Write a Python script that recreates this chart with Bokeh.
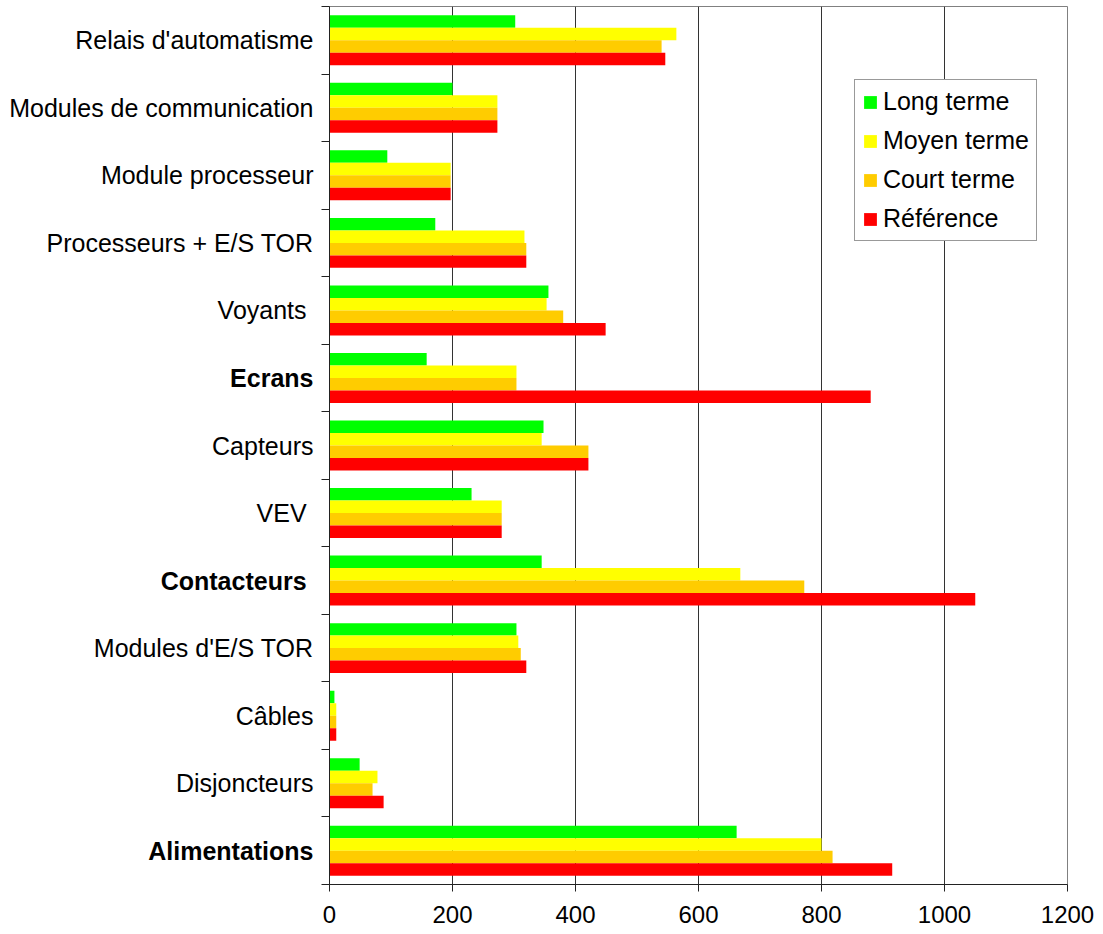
from bokeh.plotting import figure
from bokeh.layouts import row
from bokeh.models import ColumnDataSource, Range1d, FixedTicker, LinearAxis, Legend, LegendItem
from bokeh.core.properties import value
from bokeh.transform import dodge
from bokeh.embed import file_html
from bokeh.resources import INLINE

# Categories, listed from top to bottom as in the chart
categories = ["Relais d'automatisme", "Modules de communication", "Module processeur",
              "Processeurs + E/S TOR", "Voyants ", "Ecrans", "Capteurs", "VEV ",
              "Contacteurs ", "Modules d'E/S TOR", "Câbles", "Disjoncteurs", "Alimentations"]
bold_categories = ["Ecrans", "Contacteurs ", "Alimentations"]

long_terme  = [302, 200, 94, 172, 356, 158, 348, 231, 345, 304, 8, 49, 662]
moyen_terme = [564, 273, 197, 317, 353, 304, 345, 280, 668, 307, 11, 78, 800]
court_terme = [540, 273, 197, 320, 380, 304, 421, 280, 772, 311, 11, 70, 818]
reference   = [546, 273, 197, 320, 449, 880, 421, 280, 1050, 320, 11, 88, 915]

series_names = ["Long terme", "Moyen terme", "Court terme", "Référence"]
series_colors = ["#00FF00", "#FFFF00", "#FFCC00", "#FF0000"]
x_ticks = [0, 200, 400, 600, 800, 1000, 1200]

FONT = "Liberation Sans"
n = len(categories)
ypos = [n - 1 - i + 0.5 for i in range(n)]

src = ColumnDataSource(dict(
    y=ypos, cat=categories,
    style=["bold" if c in bold_categories else "normal" for c in categories],
    long=long_terme, moyen=moyen_terme, court=court_terme, ref=reference,
))

H = 934
TOP = 6
BOTTOM = 50
y_range = Range1d(0, n)

# ---- left panel holding the category labels ----
lab = figure(width=317, height=H, output_backend="svg", toolbar_location=None,
             x_range=Range1d(0, 1), y_range=y_range,
             min_border_left=0, min_border_right=0, min_border_top=TOP, min_border_bottom=BOTTOM,
             x_axis_location=None, y_axis_location=None)
lab.outline_line_color = None
lab.xgrid.grid_line_color = None
lab.ygrid.grid_line_color = None
lab.text(x=1, y="y", text="cat", source=src, x_offset=-4,
         text_align="right", text_baseline="middle",
         text_font=value(FONT), text_font_size="25px", text_color="black",
         text_font_style="style")

# ---- main chart ----
p = figure(width=783, height=H, output_backend="svg", toolbar_location=None,
           x_range=Range1d(0, 1200), y_range=y_range,
           min_border_left=12, min_border_right=33, min_border_top=TOP, min_border_bottom=BOTTOM,
           x_axis_location=None, y_axis_location=None)
p.outline_line_color = "#808080"
p.outline_line_width = 1
p.background_fill_color = "white"
p.border_fill_color = "white"

bar_h = 0.185
offsets = [0.2775, 0.0925, -0.0925, -0.2775]
fields = ["long", "moyen", "court", "ref"]
renderers = []
for f, off, col in zip(fields, offsets, series_colors):
    r = p.hbar(y=dodge("y", off), right=f, left=0, height=bar_h, source=src,
               fill_color=col, line_color=None)
    renderers.append(r)

# x axis
xaxis = LinearAxis(ticker=FixedTicker(ticks=x_ticks))
xaxis.axis_line_color = "#222222"
xaxis.major_tick_line_color = "#222222"
xaxis.major_tick_out = 7
xaxis.major_tick_in = 0
xaxis.minor_tick_line_color = None
xaxis.major_label_standoff = 14
xaxis.major_label_text_font = FONT
xaxis.major_label_text_font_size = "24px"
xaxis.major_label_text_color = "black"
p.add_layout(xaxis, "below")

# y axis: ticks at category boundaries, labels shown in the left panel
yaxis = LinearAxis(ticker=FixedTicker(ticks=list(range(n + 1))))
yaxis.axis_line_color = "#222222"
yaxis.major_tick_line_color = "#222222"
yaxis.major_tick_out = 8
yaxis.major_tick_in = 0
yaxis.minor_tick_line_color = None
yaxis.major_label_overrides = {i: "" for i in range(n + 1)}
yaxis.major_label_standoff = 0
p.add_layout(yaxis, "left")

p.xgrid.ticker = FixedTicker(ticks=x_ticks[1:])
p.xgrid.grid_line_color = "#333333"
p.ygrid.grid_line_color = None

legend = Legend(items=[LegendItem(label=nm, renderers=[r]) for nm, r in zip(series_names, renderers)],
                location=(525, 643))
legend.label_text_font = FONT
legend.label_text_font_size = "25px"
legend.label_text_color = "black"
legend.glyph_width = 16
legend.glyph_height = 16
legend.label_standoff = 5
legend.label_height = 28
legend.spacing = 10
legend.padding = 7
legend.margin = 0
legend.border_line_color = "#333333"
legend.border_line_width = 1
legend.background_fill_color = "white"
legend.background_fill_alpha = 1
p.add_layout(legend)

layout = row(lab, p, spacing=0)
open("out.html", "w").write(file_html(layout, INLINE))
